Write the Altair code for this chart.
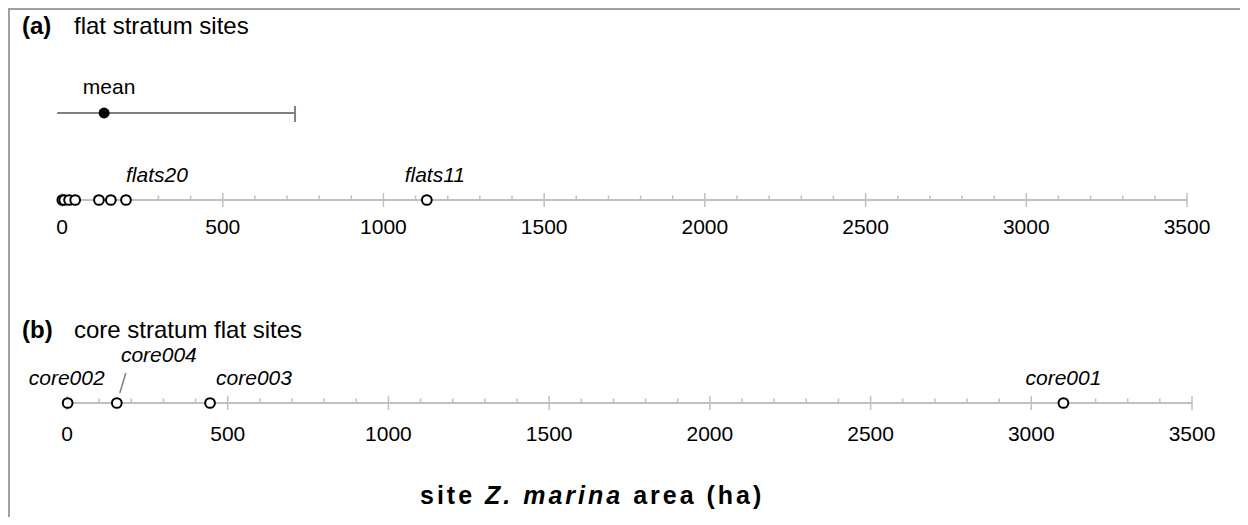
import altair as alt
import pandas as pd

# ---------------- data ----------------
flat_values = [1, 7, 22, 41, 115, 152, 199, 1135]
flat_named = ["flats20", "flats11"]
flat_named_values = [199, 1135]
mean_value = [131]
mean_low = [-15]
mean_high = [725]
core_names = ["core001", "core002", "core003", "core004"]
core_values = [3100, 2, 445, 155]
major_ticks = [0, 500, 1000, 1500, 2000, 2500, 3000, 3500]
minor_ticks = [v for v in range(100, 3500, 100) if v % 500 != 0]

FONT = "Liberation Sans"
W, H = 1125, 509
PY = lambda y: y - 8  # page y -> plot y

xs = alt.Scale(domain=[0, 3500], nice=False, zero=False)


def X(field):
    return alt.X(f"{field}:Q", scale=xs, axis=None)


flat_df = pd.DataFrame({"v": flat_values})
named_df = pd.DataFrame({"v": flat_named_values, "name": flat_named})
mean_df = pd.DataFrame({"m": mean_value, "lo": mean_low, "hi": mean_high})
core_df = pd.DataFrame({"v": core_values, "name": core_names})
maj_df = pd.DataFrame({"v": major_ticks, "label": [str(t) for t in major_ticks]})
min_df = pd.DataFrame({"v": minor_ticks})
one = pd.DataFrame({"a": [0]})

AXIS_COL = "#c0c0c0"
layers = []

for (axis_y, label_y, dx) in [(200, 228, 0), (403, 434.5, 5)]:
    layers.append(
        alt.Chart(pd.DataFrame({"lo": [0], "hi": [3500]}))
        .mark_rule(color=AXIS_COL, strokeWidth=2, xOffset=dx, x2Offset=dx)
        .encode(x=X("lo"), x2="hi:Q", y=alt.value(PY(axis_y)))
    )
    layers.append(
        alt.Chart(min_df)
        .mark_rule(color=AXIS_COL, strokeWidth=1.5, xOffset=dx)
        .encode(x=X("v"), y=alt.value(PY(axis_y - 4.5)), y2=alt.value(PY(axis_y)))
    )
    layers.append(
        alt.Chart(maj_df)
        .mark_rule(color=AXIS_COL, strokeWidth=1.5, xOffset=dx)
        .encode(x=X("v"), y=alt.value(PY(axis_y - 7)), y2=alt.value(PY(axis_y + 7)))
    )
    layers.append(
        alt.Chart(maj_df)
        .mark_text(font=FONT, fontSize=21, color="#000", baseline="middle", dx=dx)
        .encode(x=X("v"), y=alt.value(PY(label_y)), text="label:N")
    )

# ---- panel (a) ----
layers.append(
    alt.Chart(mean_df)
    .mark_rule(color="#808080", strokeWidth=2)
    .encode(x=X("lo"), x2="hi:Q", y=alt.value(PY(113)))
)
layers.append(
    alt.Chart(mean_df)
    .mark_rule(color="#808080", strokeWidth=2)
    .encode(x=X("hi"), y=alt.value(PY(106)), y2=alt.value(PY(122)))
)
layers.append(
    alt.Chart(mean_df)
    .mark_circle(color="#000", opacity=1, size=120)
    .encode(x=X("m"), y=alt.value(PY(113)))
)
layers.append(
    alt.Chart(mean_df)
    .mark_text(font=FONT, fontSize=21, color="#000", baseline="middle", dx=5)
    .encode(x=X("m"), y=alt.value(PY(88)), text=alt.value("mean"))
)
layers.append(
    alt.Chart(flat_df)
    .mark_point(shape="circle", filled=False, fill="white", fillOpacity=1,
                stroke="black", strokeWidth=2, size=95, opacity=1)
    .encode(x=X("v"), y=alt.value(PY(200)))
)
layers.append(
    alt.Chart(named_df)
    .transform_filter(alt.datum.name == "flats20")
    .mark_text(font=FONT, fontSize=21, fontStyle="italic", align="left",
               baseline="middle", color="#000", dx=0)
    .encode(x=X("v"), y=alt.value(PY(176)), text="name:N")
)
layers.append(
    alt.Chart(named_df)
    .transform_filter(alt.datum.name == "flats11")
    .mark_text(font=FONT, fontSize=21, fontStyle="italic", align="center",
               baseline="middle", color="#000", dx=8)
    .encode(x=X("v"), y=alt.value(PY(176)), text="name:N")
)

# ---- panel (b) ----
layers.append(
    alt.Chart(core_df)
    .transform_filter(alt.datum.name == "core004")
    .mark_rule(color="#808080", strokeWidth=1.5, xOffset=8, x2Offset=14)
    .encode(x=X("v"), x2="v:Q", y=alt.value(PY(393)), y2=alt.value(PY(373)))
)
layers.append(
    alt.Chart(core_df)
    .mark_point(shape="circle", filled=False, fill="white", fillOpacity=1,
                stroke="black", strokeWidth=2, size=95, opacity=1, xOffset=5)
    .encode(x=X("v"), y=alt.value(PY(403)))
)
core_label_style = {
    "core001": dict(align="center", dx=5, y=379),
    "core002": dict(align="center", dx=4, y=379),
    "core003": dict(align="left", dx=11, y=379),
    "core004": dict(align="center", dx=47, y=356),
}
for nm, st in core_label_style.items():
    layers.append(
        alt.Chart(core_df)
        .transform_filter(alt.datum.name == nm)
        .mark_text(font=FONT, fontSize=21, fontStyle="italic", align=st["align"],
                   baseline="middle", color="#000", dx=st["dx"])
        .encode(x=X("v"), y=alt.value(PY(st["y"])), text="name:N")
    )


def txt(s, x_page, y_page, size, weight="normal", style="normal", align="left"):
    return (
        alt.Chart(one)
        .mark_text(font=FONT, fontSize=size, fontWeight=weight, fontStyle=style,
                   align=align, baseline="middle", color="#000")
        .encode(x=alt.value(x_page - 62), y=alt.value(PY(y_page)), text=alt.value(s))
    )

layers.append(txt("(a)", 22, 27, 24, weight="bold"))
layers.append(txt("flat stratum sites", 74, 27, 24))
layers.append(txt("(b)", 22, 331, 24, weight="bold"))
layers.append(txt("core stratum flat sites", 74, 331, 24))

# x-axis title: slightly letter-spaced bold text, "Z. marina" in italic
BOLD_W = {"s": 556, "i": 278, "t": 333, "e": 556, " ": 278, "Z": 611, ".": 278,
          "m": 889, "a": 556, "r": 389, "n": 611, "(": 333, "h": 611, ")": 333}
title_runs = [("site ", "normal"), ("Z. marina", "italic"), (" area (ha)", "normal")]
T_SIZE, T_SPACE, T_START, T_Y = 25, 3, 420, 496
rows = []
cx = T_START
for run, style in title_runs:
    for ch in run:
        if ch != " ":
            rows.append({"ch": ch, "px": cx - 62, "style": style})
        cx += BOLD_W[ch] / 1000 * T_SIZE + T_SPACE
title_df = pd.DataFrame(rows)
for style in ["normal", "italic"]:
    layers.append(
        alt.Chart(title_df)
        .transform_filter(alt.datum.style == style)
        .mark_text(font=FONT, fontSize=T_SIZE, fontWeight="bold", fontStyle=style,
                   align="left", baseline="middle", color="#000")
        .encode(x=alt.X("px:Q", scale=None), y=alt.value(PY(T_Y)), text="ch:N")
    )

# ---- frame ----
layers.append(
    alt.Chart(one).mark_rule(color="#a0a0a0", strokeWidth=2)
    .encode(x=alt.value(-53), y=alt.value(0), y2=alt.value(H))
)
layers.append(
    alt.Chart(one).mark_rule(color="#a0a0a0", strokeWidth=2)
    .encode(x=alt.value(-54), x2=alt.value(W + 53), y=alt.value(1))
)

chart = (
    alt.layer(*layers)
    .properties(
        width=W,
        height=H,
        autosize=alt.AutoSizeParams(type="none"),
        padding={"left": 54, "top": 0, "right": 53, "bottom": 0},
        background="white",
    )
    .configure_view(stroke=None)
)

chart.save("out.html", embed_options={"renderer": "svg", "actions": False})
